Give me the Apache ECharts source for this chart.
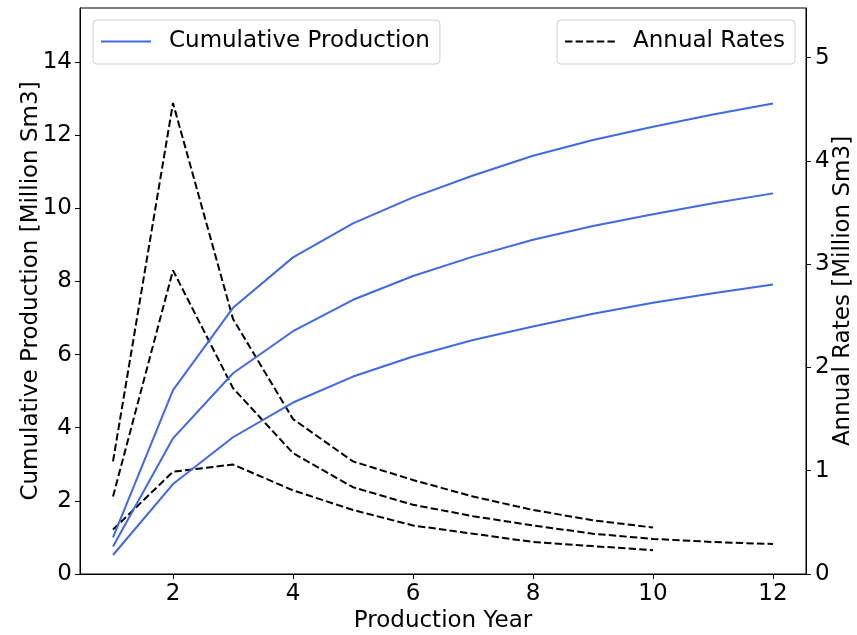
<!DOCTYPE html>
<html>
<head>
<meta charset="utf-8">
<script src="https://cdn.jsdelivr.net/npm/echarts@6/dist/echarts.min.js"></script>
<style>html,body{margin:0;padding:0;background:#fff}#c{width:857px;height:635px}</style>
</head>
<body>
<div id="c"></div>
<script>
const years12 = [1,2,3,4,5,6,7,8,9,10,11,12];
const years10 = [1,2,3,4,5,6,7,8,9,10];
const cumHigh = [1.00, 5.03, 7.28, 8.66, 9.59, 10.30, 10.90, 11.44, 11.87, 12.23, 12.57, 12.87];
const cumMid  = [0.75, 3.71, 5.49, 6.64, 7.50, 8.15, 8.68, 9.14, 9.52, 9.84, 10.14, 10.41];
const cumLow  = [0.52, 2.46, 3.74, 4.69, 5.40, 5.95, 6.40, 6.77, 7.12, 7.42, 7.68, 7.92];
const rateHigh = [1.09, 4.56, 2.47, 1.50, 1.09, 0.91, 0.75, 0.62, 0.52, 0.45];
const rateMid  = [0.75, 2.94, 1.80, 1.17, 0.84, 0.67, 0.56, 0.47, 0.39, 0.34, 0.31, 0.29];
const rateLow  = [0.43, 0.99, 1.06, 0.81, 0.62, 0.47, 0.39, 0.31, 0.27, 0.23];
const xTicks = [2,4,6,8,10,12];
const leftTicks = [0,2,4,6,8,10,12,14];
const rightTicks = [0,1,2,3,4,5];

const FONT = 'DejaVu Sans';
const FS = 23;
const pair = (xs, ys) => ys.map((v,i) => [xs[i], v]);
const blue = '#4169E1';
const dash = [7.4, 3.2];

function cum(data){ return {name:'Cumulative Production', type:'line', xAxisIndex:0, yAxisIndex:0, data, symbol:'none', lineStyle:{color:blue, width:2}, itemStyle:{color:blue}, z:3, silent:true, animation:false}; }
function rate(data){ return {name:'Annual Rates', type:'line', xAxisIndex:0, yAxisIndex:1, data, symbol:'none', lineStyle:{color:'#000', width:2, type:dash}, itemStyle:{color:'#000'}, z:2, silent:true, animation:false}; }

const axisCommon = {
  axisLine:{show:true, lineStyle:{color:'#000', width:1}},
  splitLine:{show:false},
  nameMoveOverlap:false,
  nameTextStyle:{fontFamily:FONT, fontSize:FS, color:'#000'}
};
const legendCommon = {
  orient:'horizontal', itemWidth:50, itemHeight:14, top:20,
  padding:[10,10,11,7], borderColor:'#d0d0d0', borderWidth:1, borderRadius:4, backgroundColor:'rgba(255,255,255,0.8)',
  itemStyle:{opacity:0},
  textStyle:{fontFamily:FONT, fontSize:FS, color:'#000', padding:[0,0,0,13]}, selectedMode:false
};

const chart = echarts.init(document.getElementById('c'), null, {renderer:'canvas'});
chart.setOption({
  animation:false,
  backgroundColor:'#fff',
  grid:{left:80, right:51, top:8, bottom:61, outerBoundsMode:'none', containLabel:false, show:true, borderColor:'#000', borderWidth:1, backgroundColor:'transparent'},
  legend:[
    Object.assign({}, legendCommon, {data:['Cumulative Production'], left:93}),
    Object.assign({}, legendCommon, {data:['Annual Rates'], right:62})
  ],
  xAxis:[Object.assign({}, axisCommon, {
    type:'value', min:0.45, max:12.55, position:'bottom',
    name:'Production Year', nameLocation:'middle', nameGap:36,
    axisTick:{show:true, length:5, lineStyle:{color:'#000'}, customValues:xTicks},
    axisLabel:{customValues:xTicks, fontFamily:FONT, fontSize:FS, color:'#000', margin:9}
  })],
  yAxis:[
    Object.assign({}, axisCommon, {
      type:'value', min:0, max:15.48, position:'left',
      name:'Cumulative Production [Million Sm3]', nameLocation:'middle', nameGap:37,
      axisTick:{show:true, length:5, lineStyle:{color:'#000'}, customValues:leftTicks},
      axisLabel:{customValues:leftTicks, fontFamily:FONT, fontSize:FS, color:'#000', margin:8}
    }),
    Object.assign({}, axisCommon, {
      type:'value', min:0, max:5.48, position:'right',
      name:'Annual Rates [Million Sm3]', nameLocation:'middle', nameGap:26,
      axisTick:{show:true, length:5, lineStyle:{color:'#000'}, customValues:rightTicks},
      axisLabel:{customValues:rightTicks, fontFamily:FONT, fontSize:FS, color:'#000', margin:9}
    })
  ],
  series:[
    cum(pair(years12, cumHigh)),
    cum(pair(years12, cumMid)),
    cum(pair(years12, cumLow)),
    rate(pair(years10, rateHigh)),
    rate(pair(years12, rateMid)),
    rate(pair(years10, rateLow))
  ]
});
</script>
</body>
</html>
